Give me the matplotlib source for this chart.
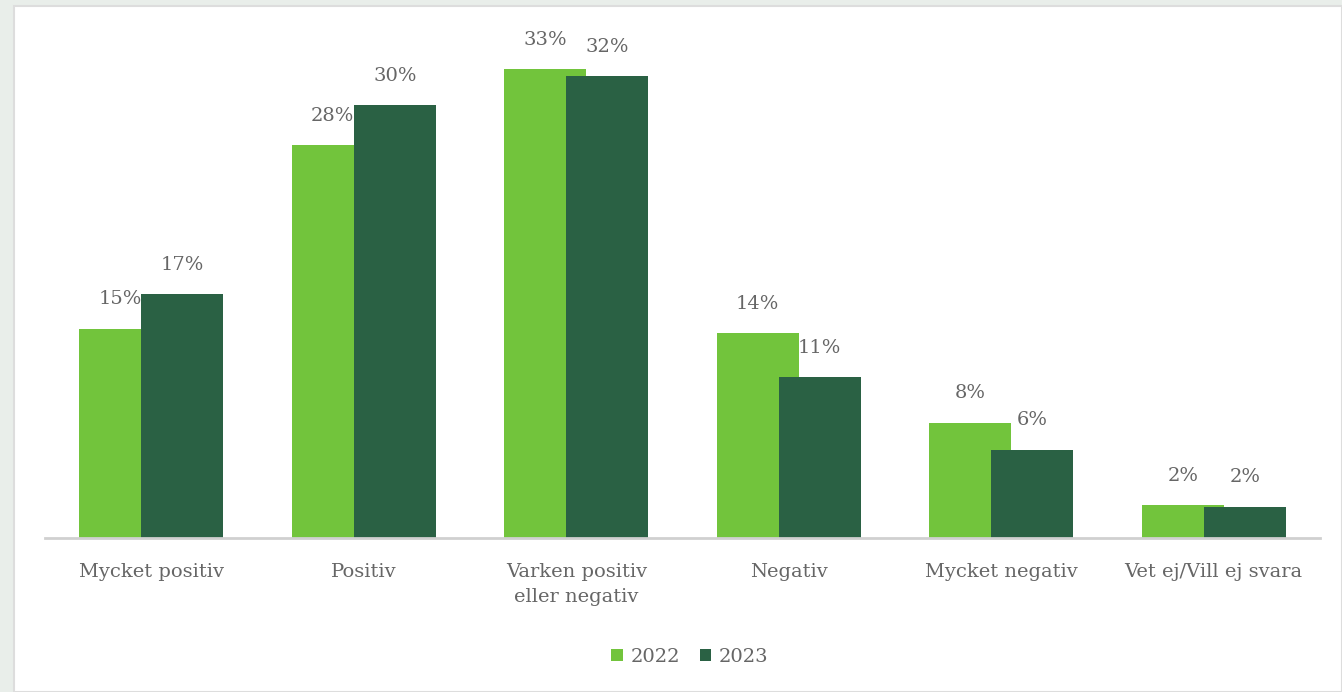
import matplotlib.pyplot as plt
from matplotlib.patches import Rectangle
import numpy as np

# ── DATA ──────────────────────────────────────────────────────────────────────
categories = ['Mycket positiv', 'Positiv', 'Varken positiv\neller negativ',
              'Negativ', 'Mycket negativ', 'Vet ej/Vill ej svara']
years = ['2022', '2023']
vals_2022 = [14.7, 27.6, 32.9, 14.4, 8.1, 2.3]
vals_2023 = [17.1, 30.4, 32.4, 11.3, 6.2, 2.2]

# ── STYLE ─────────────────────────────────────────────────────────────────────
CLR_22 = '#72C43C'
CLR_23 = '#2A6144'
TXT = '#666666'
plt.rcParams['font.family'] = ['DejaVu Serif']

W, H = 1342, 692
fig = plt.figure(figsize=(W / 100, H / 100), dpi=100)
fig.patch.set_facecolor('#E9EEEA')
fig.patches.append(Rectangle((14 / W, 0), 1 - 14 / W, (H - 6) / H,
                             transform=fig.transFigure, facecolor='white',
                             edgecolor='#DDDDDD', linewidth=1.5, zorder=-1))

ax = fig.add_axes([45 / W, (H - 538) / H, 1275 / W, 498.75 / H])
ax.set_facecolor('none')

x = np.arange(len(categories))
bw, off = 0.386, 0.146
b1 = ax.bar(x - off, vals_2022, bw, color=CLR_22, label=years[0], zorder=2)
b2 = ax.bar(x + off, vals_2023, bw, color=CLR_23, label=years[1], zorder=3)

for bars in (b1, b2):
    for r in bars:
        ax.annotate(f'{r.get_height():.0f}%',
                    (r.get_x() + r.get_width() / 2, r.get_height()),
                    xytext=(0, 21), textcoords='offset points',
                    ha='center', va='center', fontsize=14, color=TXT, zorder=5)

ax.set_xlim(-0.5, 5.5)
ax.set_ylim(0, 35)
ax.set_yticks([])
ax.set_xticks(x)
ax.set_xticklabels(categories, fontsize=14, color=TXT, linespacing=1.5)
ax.tick_params(axis='x', length=0, pad=18)
for s in ['top', 'right', 'left']:
    ax.spines[s].set_visible(False)
ax.spines['bottom'].set_color('#D0D0D0')
ax.spines['bottom'].set_linewidth(2)
ax.spines['bottom'].set_zorder(4)

fig.legend(handles=[b1, b2], labels=years, loc='center',
           bbox_to_anchor=(690 / W, 1 - 657 / H), ncol=2, frameon=False,
           fontsize=14, labelcolor=TXT, handlelength=0.6, handleheight=0.6,
           handletextpad=0.4, columnspacing=1.0)

plt.savefig('out.png', dpi=100, facecolor=fig.get_facecolor())
